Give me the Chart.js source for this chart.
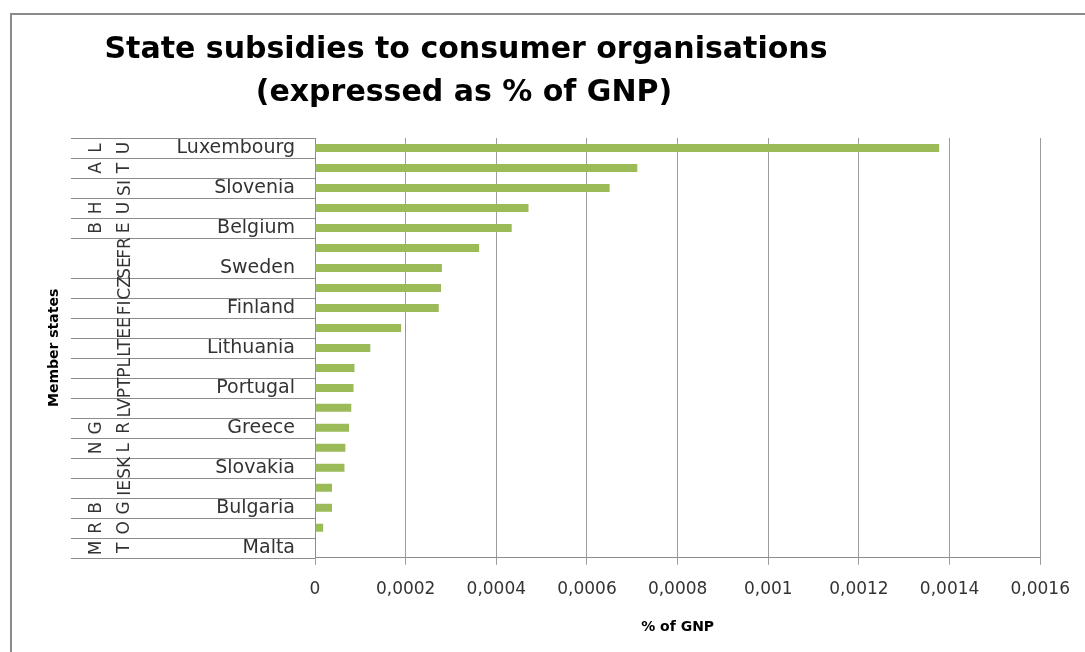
<!DOCTYPE html>
<html>
<head>
<meta charset="utf-8">
<script src="https://cdn.jsdelivr.net/npm/chart.js@4"></script>
<style>
  html, body { margin: 0; padding: 0; background: #fff; overflow: hidden; }
  #frame { position: absolute; left: 10px; top: 13px; width: 1200px; height: 800px;
           border-left: 2px solid #8a8a8a; border-top: 2px solid #8a8a8a; }
  #wrap { position: absolute; left: 0; top: 0; width: 1085px; height: 652px; }
</style>
</head>
<body>
<div id="frame"></div>
<div id="wrap"><canvas id="subsidies"></canvas></div>
<script>
// every second member state is named on the axis, like in the original sheet
const countries = ['Luxembourg', '', 'Slovenia', '', 'Belgium', '', 'Sweden', '', 'Finland', '',
    'Lithuania', '', 'Portugal', '', 'Greece', '', 'Slovakia', '', 'Bulgaria', '', 'Malta'];
// country codes, "\n" where the sheet wrapped them on two lines
const codes = ['L\nU', 'A\nT', 'SI', 'H\nU', 'B\nE', 'FR', 'SE', 'CZ', 'FI', 'EE',
    'LT', 'PL', 'PT', 'LV', 'G\nR', 'N\nL', 'SK', 'IE', 'B\nG', 'R\nO', 'M\nT'];
const gnpShare = [0.001377, 0.000711, 0.00065, 0.000471, 0.000434, 0.000362, 0.00028,
    0.000278, 0.000273, 0.00019, 0.000122, 0.000087, 0.000085, 0.00008, 0.000075,
    0.000067, 0.000065, 0.0000375, 0.0000375, 0.000018, 0];
const xTickLabels = ['0', '0,0002', '0,0004', '0,0006', '0,0008', '0,001', '0,0012', '0,0014', '0,0016'];
const titleLines = ['State subsidies to consumer organisations', '(expressed as % of GNP)'];
const unruledAbove = ['SE'];

const fontFamily = '"DejaVu Sans", sans-serif';

const headline = {
    id: 'headline',
    afterDraw(chart) {
        const ctx = chart.ctx;
        ctx.save();
        ctx.font = 'bold 30px ' + fontFamily;
        ctx.fillStyle = '#000';
        ctx.textAlign = 'center';
        ctx.fillText(titleLines[0], 466, 58);
        ctx.fillText(titleLines[1], 464, 101);
        ctx.restore();
    }
};

// rules between the rows and the rotated codes in the category area
const categoryTable = {
    id: 'categoryTable',
    afterDraw(chart) {
        const ctx = chart.ctx;
        const y = chart.scales.y;
        const n = countries.length;
        const step = (y.bottom - y.top) / n;
        const right = chart.chartArea.left;
        ctx.save();
        ctx.strokeStyle = '#8c8c8c';
        ctx.lineWidth = 1;
        for (let i = 0; i <= n; i++) {
            if (unruledAbove.includes((codes[i] || '').replace('\n', ''))) continue;
            const yy = Math.round(y.top + step * i) + 0.5;
            ctx.beginPath();
            ctx.moveTo(71, yy);
            ctx.lineTo(right, yy);
            ctx.stroke();
        }
        ctx.font = '17px ' + fontFamily;
        ctx.fillStyle = '#333';
        ctx.textAlign = 'center';
        ctx.textBaseline = 'middle';
        codes.forEach((c, i) => {
            const cy = y.getPixelForValue(i);
            const parts = c.split('\n');
            const xs = parts.length > 1 ? [97, 125] : [126];
            parts.forEach((p, k) => {
                ctx.save();
                ctx.translate(xs[k], cy);
                ctx.rotate(-Math.PI / 2);
                ctx.fillText(p, 0, 0);
                ctx.restore();
            });
        });
        ctx.restore();
    }
};

const subsidies = new Chart(document.getElementById('subsidies'), {
    type: 'bar',
    data: {
        labels: countries,
        datasets: [{
            label: '% of GNP',
            data: gnpShare,
            backgroundColor: '#9bbb59',
            barPercentage: 0.4,
            categoryPercentage: 1
        }]
    },
    options: {
        indexAxis: 'y',
        responsive: true,
        maintainAspectRatio: false,
        animation: false,
        layout: { padding: { top: 138, left: 36, right: 44, bottom: 12 } },
        plugins: {
            legend: { display: false },
            tooltip: { enabled: false }
        },
        scales: {
            x: {
                min: 0,
                max: 0.0016,
                ticks: {
                    stepSize: 0.0002,
                    autoSkip: false,
                    maxRotation: 0,
                    padding: 15,
                    color: '#333',
                    font: { family: fontFamily, size: 17 },
                    callback: (value, index) => xTickLabels[index]
                },
                grid: { color: '#9c9c9c', tickLength: 7 },
                border: { color: '#8c8c8c' },
                title: {
                    display: true,
                    text: '% of GNP',
                    color: '#000',
                    font: { family: fontFamily, size: 14, weight: 'bold' },
                    padding: { top: 4, bottom: 4 }
                }
            },
            y: {
                ticks: {
                    autoSkip: false,
                    padding: 20,
                    color: '#333',
                    font: { family: fontFamily, size: 19 }
                },
                grid: { drawOnChartArea: false, drawTicks: false },
                border: { color: '#8c8c8c' },
                title: {
                    display: true,
                    text: 'Member states',
                    color: '#000',
                    font: { family: fontFamily, size: 14, weight: 'bold' },
                    padding: { top: 10, bottom: 0 }
                },
                afterFit(scale) {
                    scale.width = 279;
                }
            }
        }
    },
    plugins: [categoryTable, headline]
});
</script>
</body>
</html>
